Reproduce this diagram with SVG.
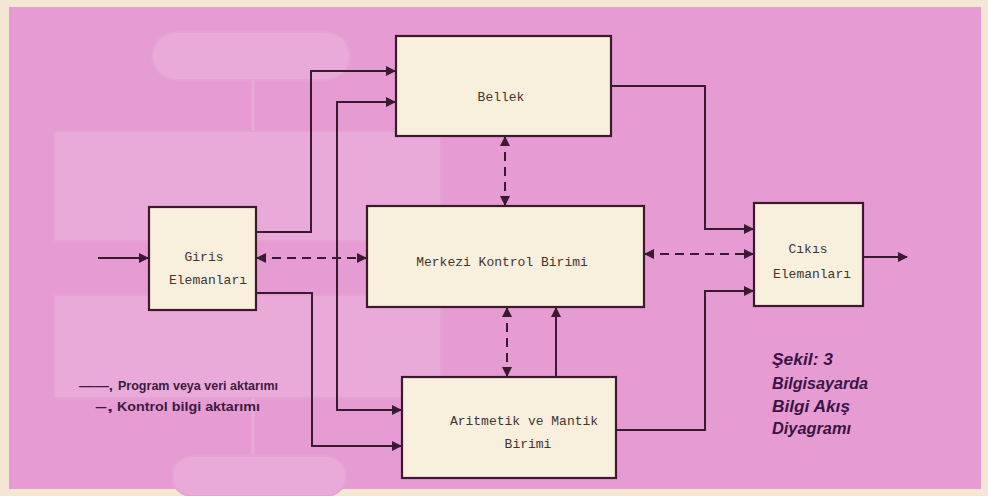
<svg xmlns="http://www.w3.org/2000/svg" width="988" height="496" viewBox="0 0 988 496">
<defs>
<marker id="arr" viewBox="0 0 10 10" refX="9" refY="5" markerWidth="5.5" markerHeight="5" orient="auto-start-reverse" markerUnits="strokeWidth">
<path d="M0,0 L10,5 L0,10 Z" fill="#3a1a30"/>
</marker>
</defs>
<style>
.box{fill:#f8efdd;stroke:#3a1a2c;stroke-width:2.2}
.lbl{font-family:"Liberation Mono","DejaVu Sans Mono",monospace;font-size:13px;fill:#44342f;text-anchor:middle}
.ln{fill:none;stroke:#3a1a30;stroke-width:2}
.dsh{fill:none;stroke:#3a1a30;stroke-width:2;stroke-dasharray:9 6}
.ghost{fill:#eaaad9;stroke:#e4a2d2;stroke-width:2}
.leg{font-family:"Liberation Sans","Noto Sans",sans-serif;font-size:12px;font-weight:bold;fill:#3c1a42}
.cap{font-family:"Liberation Sans","Noto Sans",sans-serif;font-size:17px;font-weight:bold;font-style:italic;fill:#3a1446}
</style>
<rect x="0" y="0" width="988" height="496" fill="#f3e6d2"/>
<rect x="9" y="7" width="972" height="482" fill="#e69bd2"/>
<g id="ghosts">
<rect class="ghost" x="152" y="32" width="198" height="48" rx="24"/>
<line x1="253" y1="80" x2="253" y2="131" stroke="#eaaad9" stroke-width="3"/>
<rect class="ghost" x="54" y="131" width="387" height="110"/>
<line x1="253" y1="241" x2="253" y2="295" stroke="#eaaad9" stroke-width="3"/>
<rect class="ghost" x="54" y="295" width="387" height="103"/>
<line x1="253" y1="398" x2="253" y2="456" stroke="#eaaad9" stroke-width="3"/>
<rect class="ghost" x="172" y="456" width="174" height="40" rx="20"/>
</g>
<g id="connectors">
<path class="ln" d="M98,258 H148" marker-end="url(#arr)"/>
<path class="ln" d="M256,232 H311 V71 H395" marker-end="url(#arr)"/>
<path class="ln" d="M256,293 H312 V446 H401" marker-end="url(#arr)"/>
<path class="ln" d="M395,102 H337 V410 H401" marker-start="url(#arr)" marker-end="url(#arr)"/>
<path class="dsh" d="M257,258 H366" marker-start="url(#arr)" marker-end="url(#arr)"/>
<path class="dsh" d="M505,137 V205" marker-start="url(#arr)" marker-end="url(#arr)"/>
<path class="dsh" d="M507,308 V376" marker-start="url(#arr)" marker-end="url(#arr)"/>
<path class="ln" d="M556,377 V308" marker-end="url(#arr)"/>
<path class="dsh" d="M645,254 H753" marker-start="url(#arr)" marker-end="url(#arr)"/>
<path class="ln" d="M612,86 H705 V229 H753" marker-end="url(#arr)"/>
<path class="ln" d="M617,430 H705 V291 H753" marker-end="url(#arr)"/>
<path class="ln" d="M864,257 H907" marker-end="url(#arr)"/>
</g>
<g id="bellek">
<rect class="box" x="396" y="36" width="215" height="100"/>
<text class="lbl" x="501" y="101">Bellek</text>
</g>
<g id="giris">
<rect class="box" x="149" y="207" width="107" height="103"/>
<text class="lbl" x="204" y="261">Giris</text>
<text class="lbl" x="208" y="284">Elemanları</text>
</g>
<g id="merkezi">
<rect class="box" x="367" y="206" width="277" height="101"/>
<text class="lbl" x="502" y="266">Merkezi Kontrol Birimi</text>
</g>
<g id="cikis">
<rect class="box" x="754" y="203" width="109" height="103"/>
<text class="lbl" x="808" y="253">Cıkıs</text>
<text class="lbl" x="812" y="278">Elemanları</text>
</g>
<g id="aritmetik">
<rect class="box" x="402" y="377" width="214" height="101"/>
<text class="lbl" x="524" y="425">Aritmetik ve Mantik</text>
<text class="lbl" x="528" y="448">Birimi</text>
</g>
<g id="legend">
<text class="leg" x="79" y="390" textLength="34" lengthAdjust="spacingAndGlyphs">——,</text>
<text class="leg" x="118" y="390" textLength="160" lengthAdjust="spacingAndGlyphs">Program veya veri aktarımı</text>
<text class="leg" x="95" y="411" textLength="18" lengthAdjust="spacingAndGlyphs">–,</text>
<text class="leg" x="117" y="411" textLength="143" lengthAdjust="spacingAndGlyphs">Kontrol bilgi aktarımı</text>
</g>
<g id="caption">
<text class="cap" x="772" y="365" textLength="61" lengthAdjust="spacingAndGlyphs">Şekil: 3</text>
<text class="cap" x="772" y="389" textLength="96" lengthAdjust="spacingAndGlyphs">Bilgisayarda</text>
<text class="cap" x="772" y="412" textLength="78" lengthAdjust="spacingAndGlyphs">Bilgi Akış</text>
<text class="cap" x="772" y="434" textLength="79" lengthAdjust="spacingAndGlyphs">Diyagramı</text>
</g>
</svg>
